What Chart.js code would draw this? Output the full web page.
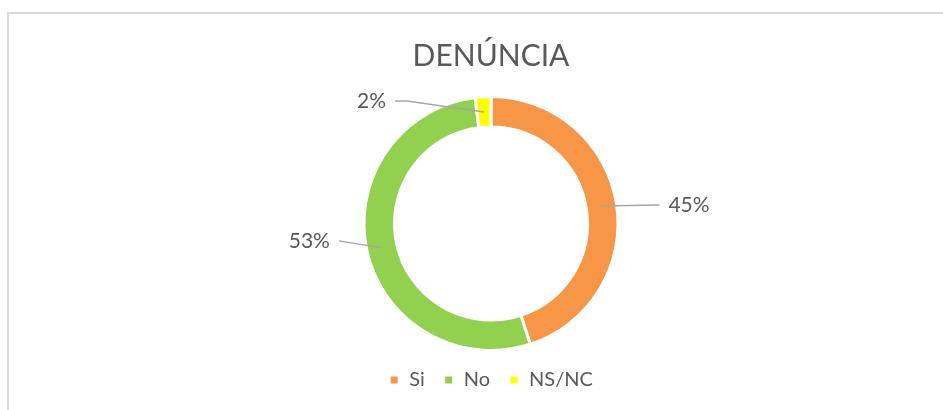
<!DOCTYPE html>
<html>
<head>
<meta charset="utf-8">
<script src="https://cdn.jsdelivr.net/npm/chart.js@4.4.0/dist/chart.umd.min.js"></script>
<style>
  html, body { margin: 0; padding: 0; background: #fff; overflow: hidden; }
  /* light grey frame of the chart object, right and bottom run off the page */
  .ks_frame { position: absolute; left: 7px; top: 12px; width: 1000px; height: 500px; border: 2px solid #d9d9d9; }
  #canvas { position: absolute; left: 0; top: 0; }
</style>
</head>
<body>
<div class="ks_frame"></div>
<canvas id="canvas" width="943" height="400"></canvas>
<script>
const chartTitle = 'DENÚNCIA';
const categories = ['Si', 'No', 'NS/NC'];
const percentValues = [45, 53, 2];
const sliceColors = ['#F79646', '#92D050', '#FFFF00'];

const textColor = '#595959';
const fontFamily = 'Lato, Calibri, "Open Sans", sans-serif';

// leader lines: offset from the middle of each ring slice, optional horizontal tail
const leaderPlugin = {
    id: 'ksLeaders',
    afterDatasetsDraw(chart, args, opts) {
        const ctx = chart.ctx;
        const meta = chart.getDatasetMeta(0);
        meta.data.forEach((arc, i) => {
            const p = arc.getProps(['x', 'y', 'startAngle', 'endAngle', 'innerRadius', 'outerRadius'], true);
            const mid = (p.startAngle + p.endAngle) / 2;
            const r = (p.innerRadius + p.outerRadius) / 2;
            const x0 = p.x + Math.cos(mid) * r;
            const y0 = p.y + Math.sin(mid) * r;
            const lead = opts.leaders[i];
            let x1 = x0 + lead.dx;
            let y1 = y0 + lead.dy;

            ctx.save();
            ctx.strokeStyle = opts.lineColor;
            ctx.lineWidth = 1.5;
            ctx.beginPath();
            ctx.moveTo(x0, y0);
            ctx.lineTo(x1, y1);
            if (lead.tail) {
                x1 += lead.tail;
                ctx.lineTo(x1, y1);
            }
            ctx.stroke();

            const toRight = lead.dx > 0;
            ctx.fillStyle = textColor;
            ctx.font = '21px ' + fontFamily;
            ctx.textBaseline = 'middle';
            ctx.textAlign = toRight ? 'left' : 'right';
            ctx.fillText(percentValues[i] + '%', x1 + (toRight ? 9 : -9), y1);
            ctx.restore();
        });
    }
};

const ctx = document.getElementById('canvas').getContext('2d');
const myChart = new Chart(ctx, {
    type: 'doughnut',
    data: {
        labels: categories,
        datasets: [{
            data: percentValues,
            backgroundColor: sliceColors,
            borderColor: '#ffffff',
            borderWidth: 3,
            hoverOffset: 0,
            radius: 127,
            cutout: '76%'
        }]
    },
    options: {
        responsive: false,
        animation: false,
        layout: { padding: { left: 39 } },
        plugins: {
            title: {
                display: true,
                text: chartTitle,
                color: textColor,
                font: { family: fontFamily, size: 30, weight: 'normal' },
                padding: { top: 38, bottom: 22 }
            },
            legend: {
                position: 'bottom',
                labels: {
                    color: textColor,
                    font: { family: fontFamily, size: 20 },
                    boxWidth: 10,
                    boxHeight: 10,
                    padding: 19
                }
            },
            tooltip: { enabled: false },
            ksLeaders: {
                lineColor: '#a6a6a6',
                leaders: [
                    { dx: 58, dy: -1 },
                    { dx: -43, dy: -7 },
                    { dx: -77, dy: -11, tail: -12 }
                ]
            }
        }
    },
    plugins: [leaderPlugin]
});
</script>
</body>
</html>
